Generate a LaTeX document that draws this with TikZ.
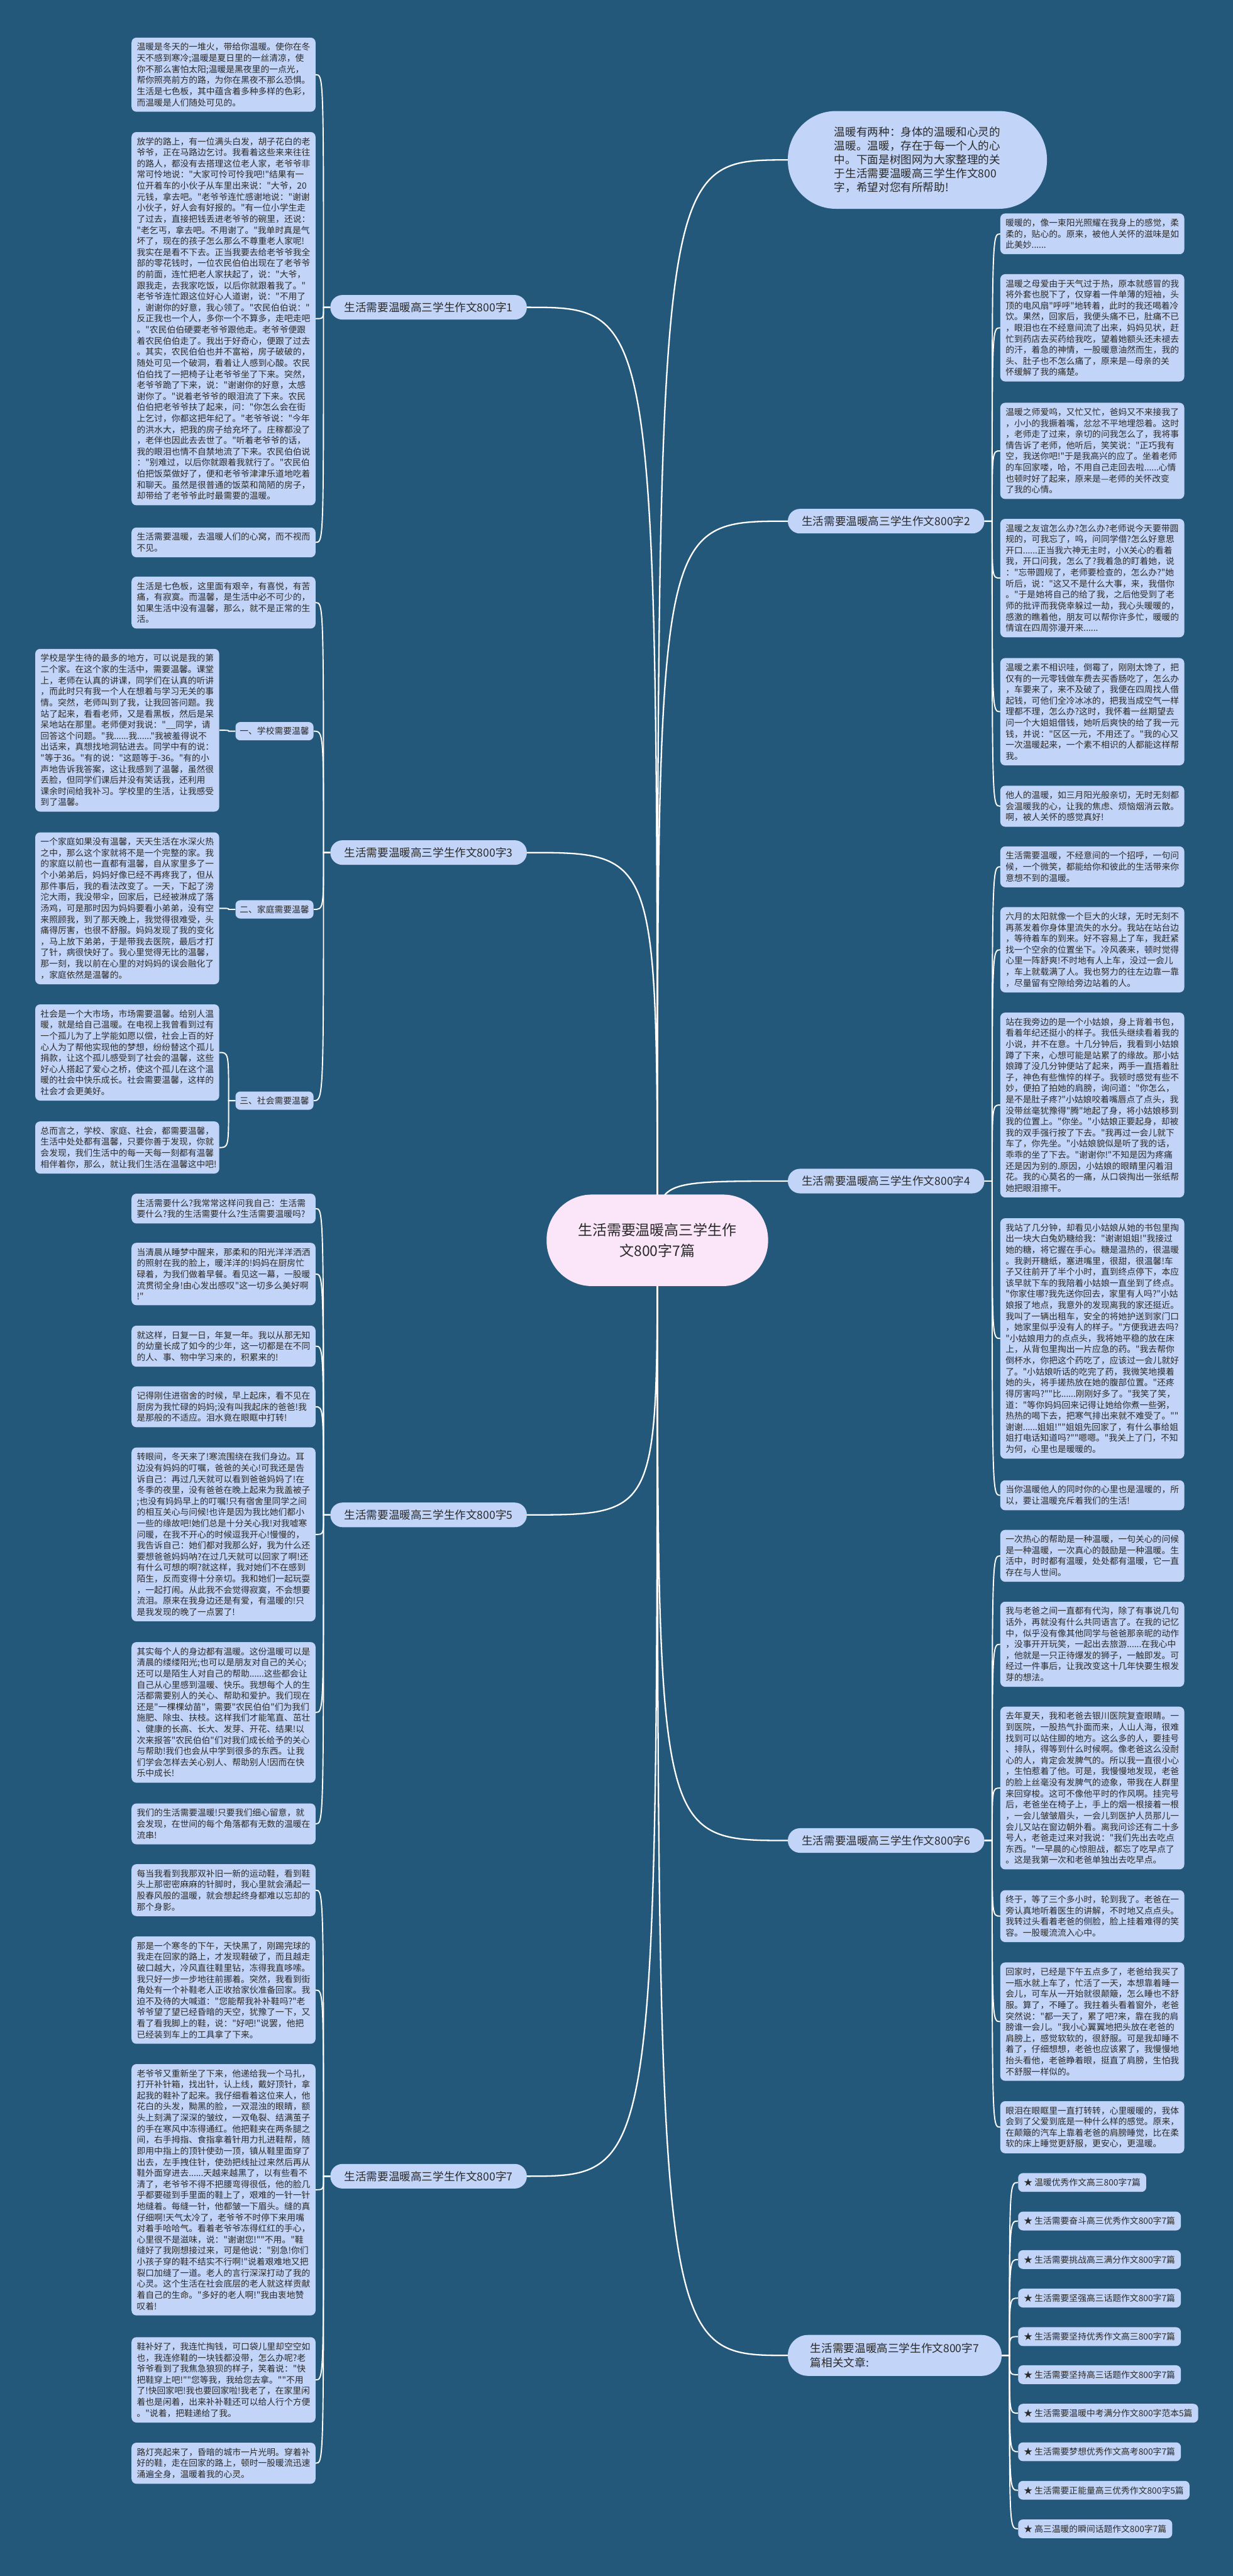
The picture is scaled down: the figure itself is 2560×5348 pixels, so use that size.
\documentclass[tikz,border=0pt]{standalone}
\usepackage{fontspec}
\newfontfamily\cjk{Noto Sans CJK SC}
\usetikzlibrary{calc}
\definecolor{bgc}{HTML}{24587A}
\definecolor{boxc}{HTML}{C2D4F7}
\definecolor{rootc}{HTML}{FBE5F8}
\definecolor{txtc}{HTML}{2A2A2A}
\pgfdeclarelayer{back}
\pgfsetlayers{back,main}
\tikzset{
 tbox/.style={rectangle, rounded corners=10pt, fill=boxc, text=txtc, font=\cjk\fontsize{18}{23}\selectfont, align=left, text width=360pt, inner xsep=11pt, inner ysep=11pt, anchor=north west},
 blab/.style={rectangle, rounded corners=25pt, fill=boxc, text=txtc, font=\cjk\fontsize{23}{29}\selectfont, minimum width=408pt, minimum height=51pt, inner sep=0pt},
 slab/.style={rectangle, rounded corners=10pt, fill=boxc, text=txtc, font=\cjk\fontsize{18}{22}\selectfont, minimum width=162pt, minimum height=38pt, inner sep=0pt},
 itemn/.style={rectangle, rounded corners=10pt, fill=boxc, text=txtc, font=\cjk\fontsize{18}{22}\selectfont, minimum height=39pt, inner xsep=12pt, inner ysep=0pt, anchor=west},
 rootn/.style={rectangle, rounded corners=94pt, fill=rootc, text=txtc, font=\cjk\fontsize{30}{42}\selectfont, minimum width=460pt, minimum height=190pt, align=center, inner sep=0pt},
 topn/.style={rectangle, rounded corners=100pt, fill=boxc, text=txtc, font=\cjk\fontsize{23}{28.7}\selectfont, minimum width=538pt, minimum height=203pt, align=left, inner sep=0pt},
 conn/.style={draw=white, line width=2.5pt},
 rconn/.style={draw=white, line width=3pt},
}
\newcommand\rc[2]{\draw[rconn] (root.center) .. controls (root.center |- #1.#2) .. (#1.#2);}
\newcommand\kl[2]{\coordinate (jj) at ($(#1.west)+(-14,0)$); \draw[conn] (#1.west) -- (jj) .. controls (jj |- #2.east) .. (#2.east);}
\newcommand\kr[2]{\coordinate (jj) at ($(#1.east)+(16,0)$); \draw[conn] (#1.east) -- (jj) .. controls (jj |- #2.west) .. (#2.west);}
\begin{document}
\begin{tikzpicture}[x=1pt,y=-1pt]
\begin{pgfonlayer}{back}
\fill[bgc] (0,0) rectangle (2560,5348);
\end{pgfonlayer}
\useasboundingbox (0,0) rectangle (2560,5348);

% root and top
\node[rootn] (root) at (1365,2575) {生活需要温暖高三学生作\\文800字7篇};
\node[topn] (R0) at (1905,332) {温暖有两种：身体的温暖和心灵的\\温暖。温暖，存在于每一个人的心\\中。下面是树图网为大家整理的关\\于生活需要温暖高三学生作文800\\字，希望对您有所帮助!};

% branch labels
\node[blab] (L1) at (890,638) {生活需要温暖高三学生作文800字1};
\node[blab] (L3) at (890,1770) {生活需要温暖高三学生作文800字3};
\node[blab] (L5) at (890,3145) {生活需要温暖高三学生作文800字5};
\node[blab] (L7) at (890,4518) {生活需要温暖高三学生作文800字7};
\node[blab] (R2) at (1840,1082) {生活需要温暖高三学生作文800字2};
\node[blab] (R4) at (1840,2452) {生活需要温暖高三学生作文800字4};
\node[blab] (R6) at (1840,3821) {生活需要温暖高三学生作文800字6};
\node[blab, minimum width=444pt, minimum height=85pt, rounded corners=42pt, align=left] (R8) at (1858,4890) {生活需要温暖高三学生作文800字7\\篇相关文章:};

% sub labels
\node[slab] (S1) at (570,1518) {一、学校需要温馨};
\node[slab] (S2) at (570,1888) {二、家庭需要温馨};
\node[slab] (S3) at (570,2285) {三、社会需要温馨};

% L1 children
\node[tbox] (b1) at (273,78) {温暖是冬天的一堆火，带给你温暖。使你在冬\\天不感到寒冷;温暖是夏日里的一丝清凉，使\\你不那么害怕太阳;温暖是黑夜里的一点光，\\帮你照亮前方的路，为你在黑夜不那么恐惧。\\生活是七色板，其中蕴含着多种多样的色彩，\\而温暖是人们随处可见的。};
\node[tbox] (b2) at (273,274) {放学的路上，有一位满头白发，胡子花白的老\\爷爷，正在马路边乞讨。我看着这些来来往往\\的路人，都没有去搭理这位老人家，老爷爷非\\常可怜地说："大家可怜可怜我吧!"结果有一\\位开着车的小伙子从车里出来说："大爷，20\\元钱，拿去吧。"老爷爷连忙感谢地说："谢谢\\小伙子，好人会有好报的。"有一位小学生走\\了过去，直接把钱丢进老爷爷的碗里，还说：\\"老乞丐，拿去吧。不用谢了。"我单时真是气\\坏了，现在的孩子怎么那么不尊重老人家呢!\\我实在是看不下去。正当我要去给老爷爷我全\\部的零花钱时，一位农民伯伯出现在了老爷爷\\的前面，连忙把老人家扶起了，说："大爷，\\跟我走，去我家吃饭，以后你就跟着我了。"\\老爷爷连忙跟这位好心人道谢，说："不用了\\，谢谢你的好意，我心领了。"农民伯伯说："\\反正我也一个人，多你一个不算多，走吧走吧\\。"农民伯伯硬要老爷爷跟他走。老爷爷便跟\\着农民伯伯走了。我出于好奇心，便跟了过去\\。其实，农民伯伯也并不富裕，房子破破的，\\随处可见一个破洞，看着让人感到心酸。农民\\伯伯找了一把椅子让老爷爷坐了下来。突然，\\老爷爷跪了下来，说："谢谢你的好意，太感\\谢你了。"说着老爷爷的眼泪流了下来。农民\\伯伯把老爷爷扶了起来，问："你怎么会在街\\上乞讨，你都这把年纪了。"老爷爷说："今年\\的洪水大，把我的房子给充坏了。庄稼都没了\\，老伴也因此去去世了。"听着老爷爷的话，\\我的眼泪也情不自禁地流了下来。农民伯伯说\\："别难过，以后你就跟着我就行了。"农民伯\\伯把饭菜做好了，便和老爷爷津津乐道地吃着\\和聊天。虽然是很普通的饭菜和简陋的房子，\\却带给了老爷爷此时最需要的温暖。};
\node[tbox] (b3) at (273,1095) {生活需要温暖，去温暖人们的心窝，而不视而\\不见。};

% L3 children
\node[tbox] (b4) at (273,1197) {生活是七色板，这里面有艰辛，有喜悦，有苦\\痛，有寂寞。而温馨，是生活中必不可少的，\\如果生活中没有温馨，那么，就不是正常的生\\活。};
\node[tbox] (sb1) at (73,1347) {学校是学生待的最多的地方，可以说是我的第\\二个家。在这个家的生活中，需要温馨。课堂\\上，老师在认真的讲课，同学们在认真的听讲\\，而此时只有我一个人在想着与学习无关的事\\情。突然，老师叫到了我，让我回答问题。我\\站了起来，看看老师，又是看黑板，然后是呆\\呆地站在那里。老师便对我说："\_\_同学，请\\回答这个问题。"我......我......"我被羞得说不\\出话来，真想找地洞钻进去。同学中有的说：\\"等于36。"有的说："这题等于-36。"有的小\\声地告诉我答案，这让我感到了温馨，虽然很\\丢脸，但同学们课后并没有笑话我，还利用\\课余时间给我补习。学校里的生活，让我感受\\到了温馨。};
\node[tbox] (sb2) at (73,1728) {一个家庭如果没有温馨，天天生活在水深火热\\之中，那么这个家就将不是一个完整的家。我\\的家庭以前也一直都有温馨，自从家里多了一\\个小弟弟后，妈妈好像已经不再疼我了，但从\\那件事后，我的看法改变了。一天，下起了滂\\沱大雨，我没带伞，回家后，已经被淋成了落\\汤鸡，可是那时因为妈妈要看小弟弟，没有空\\来照顾我，到了那天晚上，我觉得很难受，头\\痛得厉害，也很不舒服。妈妈发现了我的变化\\，马上放下弟弟，于是带我去医院，最后才打\\了针，病很快好了。我心里觉得无比的温馨，\\那一刻，我以前在心里的对妈妈的误会融化了\\，家庭依然是温馨的。};
\node[tbox] (sb3a) at (73,2085) {社会是一个大市场，市场需要温馨。给别人温\\暖，就是给自己温暖。在电视上我曾看到过有\\一个孤儿为了上学能如愿以偿，社会上百的好\\心人为了帮他实现他的梦想，纷纷替这个孤儿\\捐款，让这个孤儿感受到了社会的温馨，这些\\好心人搭起了爱心之桥，使这个孤儿在这个温\\暖的社会中快乐成长。社会需要温馨，这样的\\社会才会更美好。};
\node[tbox] (sb3b) at (73,2328) {总而言之，学校、家庭、社会，都需要温馨，\\生活中处处都有温馨，只要你善于发现，你就\\会发现，我们生活中的每一天每一刻都有温馨\\相伴着你，那么，就让我们生活在温馨这中吧!};

% L5 children
\node[tbox] (b5) at (273,2478) {生活需要什么?我常常这样问我自己：生活需\\要什么?我的生活需要什么?生活需要温暖吗?};
\node[tbox] (b6) at (273,2580) {当清晨从睡梦中醒来，那柔和的阳光洋洋洒洒\\的照射在我的脸上，暖洋洋的!妈妈在厨房忙\\碌着，为我们做着早餐。看见这一幕，一股暖\\流贯彻全身!由心发出感叹"这一切多么美好啊\\!"};
\node[tbox] (b7) at (273,2752) {就这样，日复一日，年复一年。我以从那无知\\的幼童长成了如今的少年，这一切都是在不同\\的人、事、物中学习来的，积累来的!};
\node[tbox] (b8) at (273,2878) {记得刚住进宿舍的时候，早上起床，看不见在\\厨房为我忙碌的妈妈;没有叫我起床的爸爸!我\\是那般的不适应。泪水竟在眼眶中打转!};
\node[tbox] (b9) at (273,3005) {转眼间，冬天来了!寒流围绕在我们身边。耳\\边没有妈妈的叮嘱，爸爸的关心!可我还是告\\诉自己：再过几天就可以看到爸爸妈妈了!在\\冬季的夜里，没有爸爸在晚上起来为我盖被子\\;也没有妈妈早上的叮嘱!只有宿舍里同学之间\\的相互关心与问候!也许是因为我比她们都小\\一些的缘故吧!她们总是十分关心我!对我嘘寒\\问暖，在我不开心的时候逗我开心!慢慢的，\\我告诉自己：她们都对我那么好，我为什么还\\要想爸爸妈妈呐?在过几天就可以回家了啊!还\\有什么可想的啊?就这样，我对她们不在感到\\陌生，反而变得十分亲切。我和她们一起玩耍\\，一起打闹。从此我不会觉得寂寞，不会想要\\流泪。原来在我身边还是有爱，有温暖的!只\\是我发现的晚了一点罢了!};
\node[tbox] (b10) at (273,3409) {其实每个人的身边都有温暖。这份温暖可以是\\清晨的缕缕阳光;也可以是朋友对自己的关心;\\还可以是陌生人对自己的帮助......这些都会让\\自己从心里感到温暖、快乐。我想每个人的生\\活都需要别人的关心、帮助和爱护。我们现在\\还是"一棵棵幼苗"，需要"农民伯伯"们为我们\\施肥、除虫、扶枝。这样我们才能笔直、茁壮\\、健康的长高、长大、发芽、开花、结果!以\\次来报答"农民伯伯"们对我们成长给予的关心\\与帮助!我们也会从中学到很多的东西。让我\\们学会怎样去关心别人、帮助别人!因而在快\\乐中成长!};
\node[tbox] (b11) at (273,3744) {我们的生活需要温暖!只要我们细心留意，就\\会发现，在世间的每个角落都有无数的温暖在\\流串!};

% L7 children
\node[tbox] (b12) at (273,3870) {每当我看到我那双补旧一新的运动鞋，看到鞋\\头上那密密麻麻的针脚时，我心里就会涌起一\\股春风般的温暖，就会想起终身都难以忘却的\\那个身影。};
\node[tbox] (b13) at (273,4020) {那是一个寒冬的下午，天快黑了，刚踢完球的\\我走在回家的路上，才发现鞋破了，而且越走\\破口越大，冷风直往鞋里钻，冻得我直哆嗦。\\我只好一步一步地往前挪着。突然，我看到街\\角处有一个补鞋老人正收拾家伙准备回家。我\\迫不及待的大喊道："您能帮我补补鞋吗?"老\\爷爷望了望已经昏暗的天空，犹豫了一下，又\\看了看我脚上的鞋，说："好吧!"说罢，他把\\已经装到车上的工具拿了下来。};
\node[tbox] (b14) at (273,4285) {老爷爷又重新坐了下来，他递给我一个马扎，\\打开补针箱，找出针，认上线，戴好顶针，拿\\起我的鞋补了起来。我仔细看着这位来人，他\\花白的头发，黝黑的脸，一双混浊的眼睛，额\\头上刻满了深深的皱纹，一双龟裂、结满茧子\\的手在寒风中冻得通红。他把鞋夹在两条腿之\\间，右手拇指、食指拿着针用力扎进鞋帮，随\\即用中指上的顶针使劲一顶，镇从鞋里面穿了\\出去，左手拽住针，使劲把线扯过来然后再从\\鞋外面穿进去......天越来越黑了，以有些看不\\清了，老爷爷不得不把腰弯得很低，他的脸几\\乎都要碰到手里面的鞋上了，艰难的一针一针\\地缝着。每缝一针，他都皱一下眉头。缝的真\\仔细啊!天气太冷了，老爷爷不时停下来用嘴\\对着手哈哈气。看着老爷爷冻得红红的手心，\\心里很不是滋味，说："谢谢您!""不用。"鞋\\缝好了我刚想接过来，可是他说："别急!你们\\小孩子穿的鞋不结实不行啊!"说着艰难地又把\\裂口加缝了一道。老人的言行深深打动了我的\\心灵。这个生活在社会底层的老人就这样贡献\\着自己的生命。"多好的老人啊!"我由衷地赞\\叹着!};
\node[tbox] (b15) at (273,4852) {鞋补好了，我连忙掏钱，可口袋儿里却空空如\\也，我连修鞋的一块钱都没带，怎么办呢?老\\爷爷看到了我焦急狼狈的样子，笑着说："快\\把鞋穿上吧!""您等我，我给您去拿。""不用\\了!快回家吧!我也要回家啦!我老了，在家里闲\\着也是闲着，出来补补鞋还可以给人行个方便\\。"说着，把鞋递给了我。};
\node[tbox] (b16) at (273,5071) {路灯亮起来了，昏暗的城市一片光明。穿着补\\好的鞋，走在回家的路上，顿时一股暖流迅速\\涌遍全身，温暖着我的心灵。};

% R2 children
\node[tbox] (c1) at (2077,443) {暖暖的，像一束阳光照耀在我身上的感觉，柔\\柔的，贴心的。原来，被他人关怀的滋味是如\\此美妙......};
\node[tbox] (c2) at (2077,569) {温暖之母爱由于天气过于热，原本就感冒的我\\将外套也脱下了，仅穿着一件单薄的短袖，头\\顶的电风扇"呼呼"地转着，此时的我还喝着冷\\饮。果然，回家后，我便头痛不已，肚痛不已\\，眼泪也在不经意间流了出来，妈妈见状，赶\\忙到药店去买药给我吃，望着她额头还未褪去\\的汗，着急的神情，一股暖意油然而生，我的\\头、肚子也不怎么痛了，原来是—母亲的关\\怀缓解了我的痛楚。};
\node[tbox] (c3) at (2077,836) {温暖之师爱呜，又忙又忙，爸妈又不来接我了\\，小小的我撅着嘴，忿忿不平地埋怨着。这时\\，老师走了过来，亲切的问我怎么了，我将事\\情告诉了老师，他听后，笑笑说："正巧我有\\空，我送你吧!"于是我高兴的应了。坐着老师\\的车回家喽，哈，不用自己走回去啦......心情\\也顿时好了起来，原来是—老师的关怀改变\\了我的心情。};
\node[tbox] (c4) at (2077,1077) {温暖之友谊怎么办?怎么办?老师说今天要带圆\\规的，可我忘了，呜，问同学借?怎么好意思\\开口......正当我六神无主时，小X关心的看着\\我，开口问我，怎么了?我着急的盯着她，说\\："忘带圆规了，老师要检查的，怎么办?"她\\听后，说："这又不是什么大事，来，我借你\\。"于是她将自己的给了我，之后他受到了老\\师的批评而我侥幸躲过一劫，我心头暖暖的，\\感激的瞧着他，朋友可以帮你许多忙，暖暖的\\情谊在四周弥漫开来......};
\node[tbox] (c5) at (2077,1366) {温暖之素不相识哇，倒霉了，刚刚太馋了，把\\仅有的一元零钱做车费去买香肠吃了，怎么办\\，车要来了，来不及破了，我便在四周找人借\\起钱，可他们全冷冰冰的，把我当成空气一样\\理都不理，怎么办?这时，我怀着一丝期望去\\问一个大姐姐借钱，她听后爽快的给了我一元\\钱，并说："区区一元，不用还了。"我的心又\\一次温暖起来，一个素不相识的人都能这样帮\\我。};
\node[tbox] (c6) at (2077,1631) {他人的温暖，如三月阳光般亲切，无时无刻都\\会温暖我的心，让我的焦虑、烦恼烟消云散。\\啊，被人关怀的感觉真好!};

% R4 children
\node[tbox] (c7) at (2077,1757) {生活需要温暖，不经意间的一个招呼，一句问\\候，一个微笑，都能给你和彼此的生活带来你\\意想不到的温暖。};
\node[tbox] (c8) at (2077,1883) {六月的太阳就像一个巨大的火球，无时无刻不\\再蒸发着你身体里流失的水分。我站在站台边\\，等待着车的到来。好不容易上了车，我赶紧\\找一个空余的位置坐下。冷风袭来，顿时觉得\\心里一阵舒爽!不时地有人上车，没过一会儿\\，车上就载满了人。我也努力的往左边靠一靠\\，尽量留有空隙给旁边站着的人。};
\node[tbox] (c9) at (2077,2102) {站在我旁边的是一个小姑娘，身上背着书包，\\看着年纪还挺小的样子。我低头继续看着我的\\小说，并不在意。十几分钟后，我看到小姑娘\\蹲了下来，心想可能是站累了的缘故。那小姑\\娘蹲了没几分钟便站了起来，两手一直捂着肚\\子，神色有些憔悴的样子。我顿时感觉有些不\\妙，便拍了拍她的肩膀，询问道："你怎么，\\是不是肚子疼?"小姑娘咬着嘴唇点了点头，我\\没带丝毫犹豫得"腾"地起了身，将小姑娘移到\\我的位置上。"你坐。"小姑娘正要起身，却被\\我的双手强行按了下去。"我再过一会儿就下\\车了，你先坐。"小姑娘貌似是听了我的话，\\乖乖的坐了下去。"谢谢你!"不知是因为疼痛\\还是因为别的.原因，小姑娘的眼睛里闪着泪\\花。我的心莫名的一痛，从口袋掏出一张纸帮\\她把眼泪擦干。};
\node[tbox] (c10) at (2077,2529) {我站了几分钟，却看见小姑娘从她的书包里掏\\出一块大白兔奶糖给我："谢谢姐姐!"我接过\\她的糖，将它握在手心。糖是温热的，很温暖\\。我剥开糖纸，塞进嘴里，很甜，很温馨!车\\子又往前开了半个小时，直到终点停下，本应\\该早就下车的我陪着小姑娘一直坐到了终点。\\"你家住哪?我先送你回去，家里有人吗?"小姑\\娘报了地点，我意外的发现离我的家还挺近。\\我叫了一辆出租车，安全的将她护送到家门口\\，她家里似乎没有人的样子。"方便我进去吗?\\"小姑娘用力的点点头，我将她平稳的放在床\\上，从背包里掏出一片应急的药。"我去帮你\\倒杯水，你把这个药吃了，应该过一会儿就好\\了。"小姑娘听话的吃完了药，我微笑地摸着\\她的头，将手搓热放在她的腹部位置。"还疼\\得厉害吗?""比......刚刚好多了。"我笑了笑，\\道："等你妈妈回来记得让她给你煮一些粥，\\热热的喝下去，把寒气排出来就不难受了。""\\谢谢......姐姐!""姐姐先回家了，有什么事给姐\\姐打电话知道吗?""嗯嗯。"我关上了门，不知\\为何，心里也是暖暖的。};
\node[tbox] (c11) at (2077,3073) {当你温暖他人的同时你的心里也是温暖的，所\\以，要让温暖充斥着我们的生活!};

% R6 children
\node[tbox] (c12) at (2077,3176) {一次热心的帮助是一种温暖，一句关心的问候\\是一种温暖，一次真心的鼓励是一种温暖。生\\活中，时时都有温暖，处处都有温暖，它一直\\存在与人世间。};
\node[tbox] (c13) at (2077,3325) {我与老爸之间一直都有代沟，除了有事说几句\\话外，再就没有什么共同语言了。在我的记忆\\中，似乎没有像其他同学与爸爸那亲昵的动作\\，没事开开玩笑，一起出去旅游......在我心中\\，他就是一只正待爆发的狮子，一触即发。可\\经过一件事后，让我改变这十几年快要生根发\\芽的想法。};
\node[tbox] (c14) at (2077,3543) {去年夏天，我和老爸去银川医院复查眼睛。一\\到医院，一股热气扑面而来，人山人海，很难\\找到可以站住脚的地方。这么多的人，要挂号\\、排队，得等到什么时候啊。像老爸这么没耐\\心的人，肯定会发脾气的。所以我一直很小心\\，生怕惹着了他。可是，我慢慢地发现，老爸\\的脸上丝毫没有发脾气的迹象，带我在人群里\\来回穿梭。这可不像他平时的作风啊。挂完号\\后，老爸坐在椅子上，手上的烟一根接着一根\\，一会儿皱皱眉头，一会儿到医护人员那儿一\\会儿又站在窗边朝外看。离我问诊还有二十多\\号人，老爸走过来对我说："我们先出去吃点\\东西。"一早晨的心惊胆战，都忘了吃早点了\\。这是我第一次和老爸单独出去吃早点。};
\node[tbox] (c15) at (2077,3924) {终于，等了三个多小时，轮到我了。老爸在一\\旁认真地听着医生的讲解，不时地又点点头。\\我转过头看着老爸的侧脸，脸上挂着难得的笑\\容。一股暖流流入心中。};
\node[tbox] (c16) at (2077,4074) {回家时，已经是下午五点多了，老爸给我买了\\一瓶水就上车了，忙活了一天，本想靠着睡一\\会儿，可车从一开始就很颠簸，怎么睡也不舒\\服。算了，不睡了。我拄着头看着窗外，老爸\\突然说："都一天了，累了吧?来，靠在我的肩\\膀谁一会儿。"我小心翼翼地把头放在老爸的\\肩膀上，感觉软软的，很舒服。可是我却睡不\\着了，仔细想想，老爸也应该累了，我慢慢地\\抬头看他，老爸睁着眼，挺直了肩膀，生怕我\\不舒服一样似的。};
\node[tbox] (c17) at (2077,4362) {眼泪在眼眶里一直打转转，心里暖暖的，我体\\会到了父爱到底是一种什么样的感觉。原来，\\在颠簸的汽车上靠着老爸的肩膀睡觉，比在柔\\软的床上睡觉更舒服，更安心，更温暖。};

% R8 items
\node[itemn] (i1) at (2114,4531) {★ 温暖优秀作文高三800字7篇};
\node[itemn] (i2) at (2114,4611) {★ 生活需要奋斗高三优秀作文800字7篇};
\node[itemn] (i3) at (2114,4691) {★ 生活需要挑战高三满分作文800字7篇};
\node[itemn] (i4) at (2114,4771) {★ 生活需要坚强高三话题作文800字7篇};
\node[itemn] (i5) at (2114,4851) {★ 生活需要坚持优秀作文高三800字7篇};
\node[itemn] (i6) at (2114,4930) {★ 生活需要坚持高三话题作文800字7篇};
\node[itemn] (i7) at (2114,5010) {★ 生活需要温暖中考满分作文800字范本5篇};
\node[itemn] (i8) at (2114,5090) {★ 生活需要梦想优秀作文高考800字7篇};
\node[itemn] (i9) at (2114,5170) {★ 生活需要正能量高三优秀作文800字5篇};
\node[itemn] (i10) at (2114,5250) {★ 高三温暖的瞬间话题作文800字7篇};

\begin{pgfonlayer}{back}
\rc{L1}{east} \rc{L3}{east} \rc{L5}{east} \rc{L7}{east}
\rc{R0}{west} \rc{R2}{west} \rc{R4}{west} \rc{R6}{west} \rc{R8}{west}
\kl{L1}{b1} \kl{L1}{b2} \kl{L1}{b3}
\kl{L3}{b4} \kl{L3}{S1} \kl{L3}{S2} \kl{L3}{S3}
\kl{S1}{sb1} \kl{S2}{sb2} \kl{S3}{sb3a} \kl{S3}{sb3b}
\kl{L5}{b5} \kl{L5}{b6} \kl{L5}{b7} \kl{L5}{b8} \kl{L5}{b9} \kl{L5}{b10} \kl{L5}{b11}
\kl{L7}{b12} \kl{L7}{b13} \kl{L7}{b14} \kl{L7}{b15} \kl{L7}{b16}
\kr{R2}{c1} \kr{R2}{c2} \kr{R2}{c3} \kr{R2}{c4} \kr{R2}{c5} \kr{R2}{c6}
\kr{R4}{c7} \kr{R4}{c8} \kr{R4}{c9} \kr{R4}{c10} \kr{R4}{c11}
\kr{R6}{c12} \kr{R6}{c13} \kr{R6}{c14} \kr{R6}{c15} \kr{R6}{c16} \kr{R6}{c17}
\kr{R8}{i1} \kr{R8}{i2} \kr{R8}{i3} \kr{R8}{i4} \kr{R8}{i5} \kr{R8}{i6} \kr{R8}{i7} \kr{R8}{i8} \kr{R8}{i9} \kr{R8}{i10}
\end{pgfonlayer}
\end{tikzpicture}
\end{document}
